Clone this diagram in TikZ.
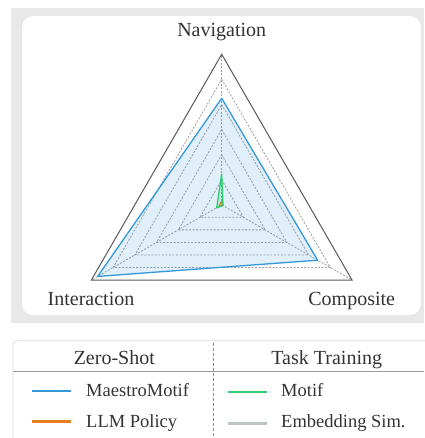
\documentclass[tikz,border=0pt]{standalone}
\usepackage{fontspec}
\setmainfont{Liberation Serif}
\usetikzlibrary{calc}
\definecolor{bgray}{HTML}{E8E8E8}
\definecolor{mblue}{HTML}{3498DB}
\definecolor{morange}{HTML}{E67E22}
\definecolor{mgreen}{HTML}{2ECC71}
\definecolor{msilver}{HTML}{BDC3C7}
\definecolor{txt}{HTML}{333333}
\tikzset{
  gridline/.style={draw=black!38, dash pattern=on 2pt off 1.5pt, line width=0.8pt},
  outerline/.style={draw=black!65, line width=1pt},
  series/.style={line width=1.3pt, line join=round},
  axislabel/.style={text=txt, font=\fontsize{20}{24}\selectfont, anchor=base, inner sep=0pt},
  headlabel/.style={text=txt, font=\fontsize{20}{24}\selectfont, anchor=base, inner sep=0pt},
  entrylabel/.style={text=txt, font=\fontsize{18.5}{22}\selectfont, anchor=base west, inner sep=0pt},
  sample/.style={line width=2.3pt},
}
\begin{document}
\begin{tikzpicture}[x=1pt,y=1pt]
\useasboundingbox (0,0) rectangle (424,-438);
% backgrounds
\fill[bgray] (11,-8.3) rectangle (424,-322.7);
\fill[white, rounded corners=11pt] (22,-16) rectangle (420.7,-315);
% radar
\begin{scope}[shift={(221.7,-204.8)}]
  \def\R{150.5}
  \foreach \r in {25.08,50.17,75.25,100.33,125.42}{
    \draw[gridline] (90:\r) -- (-30:\r) -- (210:\r) -- cycle;
  }
  \foreach \a in {90,-30,210}{
    \draw[gridline] (0,0) -- (\a:\R);
  }
  \draw[outerline] (90:\R) -- (-30:\R) -- (210:\R) -- cycle;
  % MaestroMotif
  \fill[mblue, fill opacity=0.15] (90:106.5) -- (-30:110.8) -- (210:143.2) -- cycle;
  \draw[series, mblue] (90:106.5) -- (-30:110.8) -- (210:143.2) -- cycle;
  % Embedding Sim.
  \fill[msilver, fill opacity=0.15] (90:1) -- (-30:1) -- (210:1) -- cycle;
  \draw[series, msilver] (90:1) -- (-30:1) -- (210:1) -- cycle;
  % LLM Policy
  \fill[morange, fill opacity=0.15] (90:3.5) -- (-30:1.5) -- (210:3) -- cycle;
  \draw[series, morange] (90:3.5) -- (-30:1.5) -- (210:3) -- cycle;
  % Motif
  \fill[mgreen, fill opacity=0.15] (90:30.8) -- (-30:1.5) -- (210:5.8) -- cycle;
  \draw[series, mgreen] (90:30.8) -- (-30:1.5) -- (210:5.8) -- cycle;
\end{scope}
\node[axislabel] (nav) at (221.7,-36.5) {Navigation};
\node[axislabel] (int) at (91,-305.5) {Interaction};
\node[axislabel] (com) at (351.7,-305.5) {Composite};
% legend
\draw[draw=black!14, line width=0.8pt, rounded corners=4pt] (13,-445) -- (13,-340.7) -- (430,-340.7);
\draw[draw=black!40, line width=0.8pt] (13,-371.7) -- (424,-371.7);
\draw[draw=black!45, line width=0.6pt, dash pattern=on 3pt off 2pt] (213.3,-342.7) -- (213.3,-438);
\node[headlabel] (zs) at (114.3,-364.3) {Zero-Shot};
\node[headlabel] (tt) at (326.7,-364.3) {Task Training};
\coordinate (b1) at (32.3,-391);
\coordinate (b2) at (71,-391);
\coordinate (o1) at (32.3,-421.5);
\coordinate (o2) at (71,-421.5);
\coordinate (g1) at (228.3,-392);
\coordinate (g2) at (266.7,-392);
\coordinate (s1) at (228.3,-423.5);
\coordinate (s2) at (266.7,-423.5);
\draw[sample, mblue] (b1) -- (b2);
\draw[sample, morange] (o1) -- (o2);
\draw[sample, mgreen] (g1) -- (g2);
\draw[sample, msilver] (s1) -- (s2);
\node[entrylabel] (lm) at (86,-396) {MaestroMotif};
\node[entrylabel] (ll) at (86,-427) {LLM Policy};
\node[entrylabel] (lmo) at (281,-396) {Motif};
\node[entrylabel] (le) at (281,-427) {Embedding Sim.};
\end{tikzpicture}
\end{document}
